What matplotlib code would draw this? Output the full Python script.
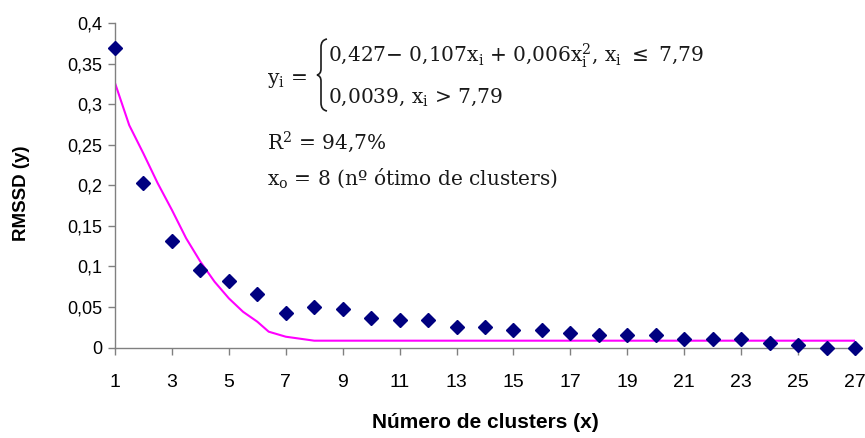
import matplotlib.pyplot as plt
from matplotlib.path import Path
from matplotlib.patches import PathPatch
import numpy as np

# dados
clusters = list(range(1, 28))
rmssd = [0.369, 0.2025, 0.131, 0.096, 0.082, 0.066, 0.043, 0.050, 0.048, 0.036,
         0.034, 0.034, 0.025, 0.025, 0.022, 0.022, 0.0175, 0.015, 0.015, 0.015,
         0.0105, 0.0105, 0.0105, 0.006, 0.0035, 0.0, 0.0]

# curva ajustada (linha rosa)
fit_x = [1, 1.5, 2, 2.5, 3, 3.5, 4, 4.5, 5, 5.5, 6, 6.4, 7, 8, 27]
fit_y = [0.326, 0.274, 0.239, 0.2025, 0.1695, 0.1346, 0.1058, 0.081, 0.0606,
         0.044, 0.0318, 0.0195, 0.0133, 0.0084, 0.0084]

yticks = [0, 0.05, 0.1, 0.15, 0.2, 0.25, 0.3, 0.35, 0.4]
ytick_labels = ['0', '0,05', '0,1', '0,15', '0,2', '0,25', '0,3', '0,35', '0,4']
xticks = list(range(1, 28, 2))

plt.rcParams['font.family'] = ['Liberation Sans', 'DejaVu Sans']

W, H = 865, 438
fig = plt.figure(figsize=(W / 100, H / 100), dpi=100)
ax = fig.add_axes([115 / W, 1 - 347.5 / H, 740 / W, 324.5 / H])

ax.plot(fit_x, fit_y, color='#FF00FF', linewidth=1.5, zorder=2)
ax.plot(clusters, rmssd, linestyle='none', marker='D', markersize=7.5,
        color='#000080', clip_on=False, zorder=3)

ax.set_xlim(1, 27)
ax.set_ylim(0, 0.4)
ax.set_xticks(xticks)
ax.set_xticklabels([str(v) for v in xticks], fontsize=14)
ax.set_yticks(yticks)
ax.set_yticklabels(ytick_labels, fontsize=13)
ax.tick_params(axis='both', direction='out', length=5, color='#808080', width=1)
ax.tick_params(axis='x', pad=14)
ax.tick_params(axis='y', pad=4)

for s in ['top', 'right']:
    ax.spines[s].set_visible(False)
for s in ['left', 'bottom']:
    ax.spines[s].set_color('#808080')
    ax.spines[s].set_linewidth(1)

ax.set_xlabel('Número de clusters (x)', fontsize=15, fontweight='bold')
ax.xaxis.set_label_coords(0.5, (347.5 - 422) / 324.5)
ax.xaxis.label.set_va('center')
ax.set_ylabel('RMSSD (y)', fontsize=13.5, fontweight='bold')
ax.yaxis.set_label_coords((22 - 115) / 740, (347.5 - 193) / 324.5)
ax.yaxis.label.set_va('center')

# equação (fonte serifada)
serif = ['DejaVu Serif', 'Liberation Serif']
fs = 14.5
tc = '#1a1a1a'


def fx(px):
    return px / W


def fy(py):
    return 1 - py / H


fig.text(fx(267), fy(80), r'y$_\mathregular{i}$ =', fontsize=fs, family=serif,
         va='center', ha='left', color=tc)

# chave
bx, by0, by1 = 321, 39, 111
bm = (by0 + by1) / 2
verts = [(bx + 6, by0), (bx, by0 + 1), (bx, by0 + 8),
         (bx, bm - 6),
         (bx, bm - 1), (bx - 4, bm),
         (bx, bm + 1), (bx, bm + 6),
         (bx, by1 - 8),
         (bx, by1 - 1), (bx + 6, by1)]
codes = [Path.MOVETO, Path.CURVE3, Path.CURVE3, Path.LINETO,
         Path.CURVE3, Path.CURVE3, Path.CURVE3, Path.CURVE3,
         Path.LINETO, Path.CURVE3, Path.CURVE3]
verts = [(fx(a), fy(b)) for a, b in verts]
fig.patches.append(PathPatch(Path(verts, codes), transform=fig.transFigure,
                             fill=False, edgecolor=tc, linewidth=1.2))

fig.text(fx(328), fy(56),
         r'0,427$-$ 0,107x$_\mathregular{i}$ + 0,006x$_\mathregular{i}^\mathregular{2}$, x$_\mathregular{i}$ $\leq$ 7,79',
         fontsize=fs, family=serif, va='center', ha='left', color=tc)
fig.text(fx(328), fy(97),
         r'0,0039, x$_\mathregular{i}$ > 7,79',
         fontsize=fs, family=serif, va='center', ha='left', color=tc)
fig.text(fx(267), fy(142), r'R$^\mathregular{2}$ = 94,7%', fontsize=fs,
         family=serif, va='center', ha='left', color=tc)
fig.text(fx(267), fy(178),
         r'x$_\mathregular{o}$ = 8 (nº ótimo de clusters)',
         fontsize=fs, family=serif, va='center', ha='left', color=tc)

fig.savefig('out.png', dpi=100)
